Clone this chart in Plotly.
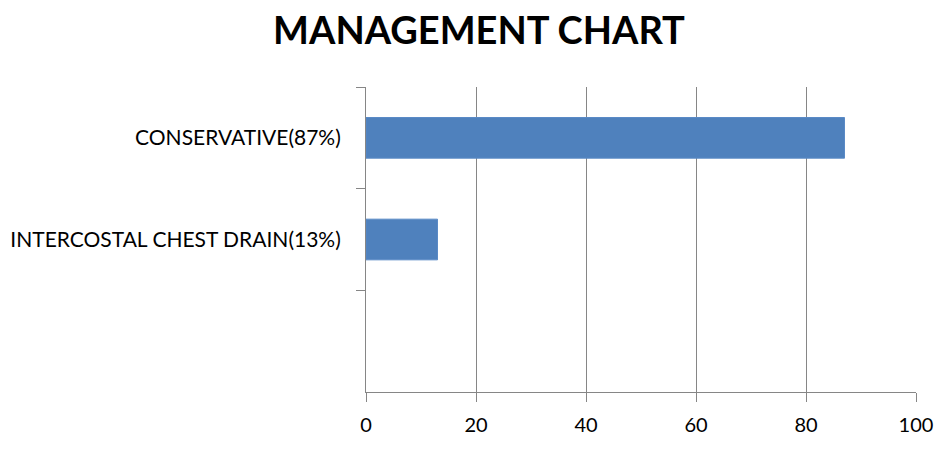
import plotly.graph_objects as go

categories = ["CONSERVATIVE(87%)", "INTERCOSTAL CHEST DRAIN(13%)", " "]
values = [87, 13, None]
x_ticks = [0, 20, 40, 60, 80, 100]
title_text = "MANAGEMENT CHART"

FONT = "Lato, Calibri, Carlito, sans-serif"
GRID = "#868686"

fig = go.Figure(
    go.Bar(
        x=values,
        y=categories,
        orientation="h",
        marker=dict(color="#4F81BD", line=dict(color="#5A8AC6", width=1)),
        showlegend=False,
    )
)

fig.update_layout(
    width=945,
    height=454,
    margin=dict(l=366, r=29, t=87, b=62, autoexpand=False),
    paper_bgcolor="white",
    plot_bgcolor="white",
    bargap=0.6,
    title=dict(
        text="<b>" + title_text + "</b>",
        x=479 / 945,
        xref="container",
        xanchor="center",
        y=1 - 31 / 454,
        yref="container",
        yanchor="middle",
        font=dict(family=FONT, size=38, color="black"),
    ),
    font=dict(family=FONT, color="black"),
)

fig.update_xaxes(
    range=[0, 100],
    tickvals=x_ticks,
    ticktext=[str(v) for v in x_ticks],
    showgrid=True,
    gridcolor=GRID,
    gridwidth=1,
    showline=True,
    linecolor=GRID,
    linewidth=1,
    ticks="outside",
    ticklen=9,
    tickcolor=GRID,
    ticklabelstandoff=6,
    tickfont=dict(family=FONT, size=20, color="black"),
    zeroline=False,
    fixedrange=True,
    automargin=False,
)

fig.update_yaxes(
    type="category",
    categoryorder="array",
    categoryarray=categories,
    range=[2.5, -0.5],
    tickson="boundaries",
    showgrid=False,
    showline=True,
    linecolor=GRID,
    linewidth=1,
    ticks="outside",
    ticklen=9,
    tickcolor=GRID,
    ticklabelstandoff=20,
    tickfont=dict(family=FONT, size=21, color="black"),
    zeroline=False,
    fixedrange=True,
    automargin=False,
)

fig.write_html("out.html")
